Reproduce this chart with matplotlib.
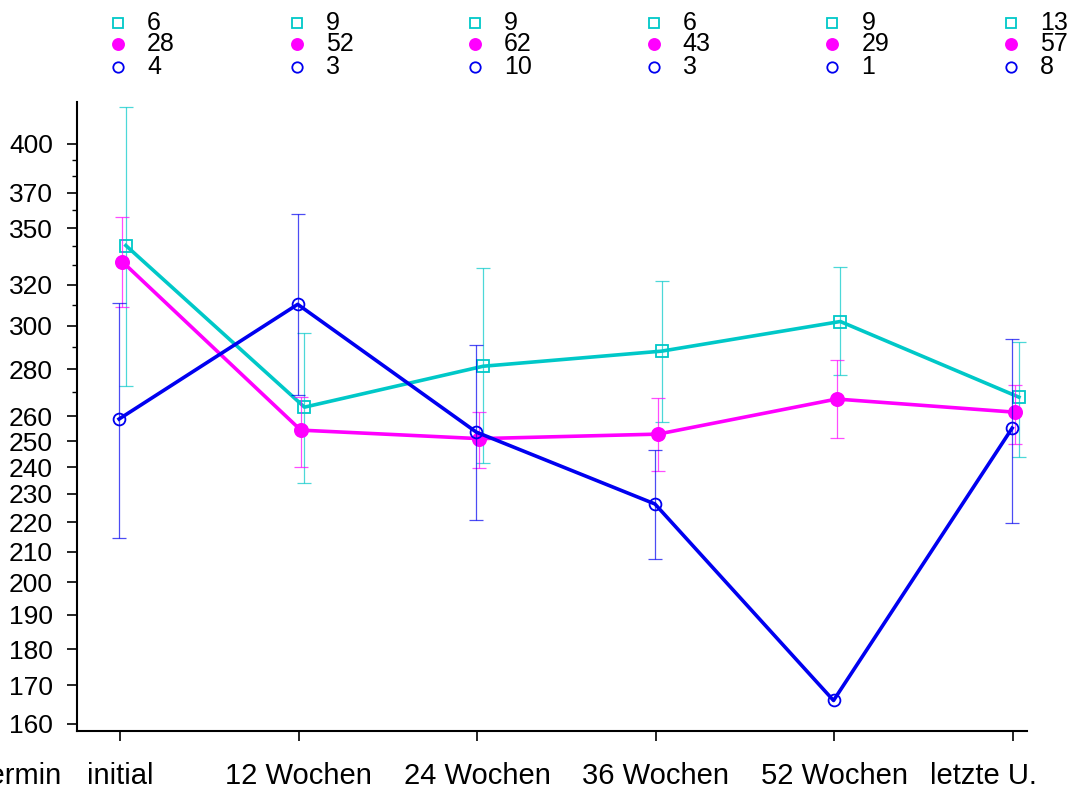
import matplotlib.pyplot as plt
import matplotlib.transforms as mtransforms
import numpy as np

plt.rcParams['font.family'] = ['Liberation Sans', 'DejaVu Sans']

# Zeitpunkte
labels = ['initial', '12 Wochen', '24 Wochen', '36 Wochen', '52 Wochen', 'letzte U.']

# Gruppe 1 (cyan, Quadrate)
cyan_mean = [340.5, 263.8, 281.4, 288.2, 302.0, 268.0]
cyan_hi = [423.6, 296.5, 328.5, 321.8, 329.0, 292.3]
cyan_lo = [272.6, 234.0, 241.4, 257.6, 277.4, 244.0]
cyan_n = [6, 9, 9, 6, 9, 13]

# Gruppe 2 (magenta, gefuellte Kreise)
mag_mean = [332.0, 254.4, 251.0, 252.8, 267.2, 261.7]
mag_hi = [356.0, 268.0, 261.7, 267.6, 284.0, 273.0]
mag_lo = [308.8, 240.0, 239.7, 238.5, 251.2, 249.0]
mag_n = [28, 52, 62, 43, 29, 57]

# Gruppe 3 (blau, offene Kreise)
blue_mean = [258.9, 310.3, 253.6, 226.4, 166.0, 255.2]
blue_hi = [311.0, 357.6, 290.9, 246.4, np.nan, 294.0]
blue_lo = [214.6, 268.8, 220.7, 207.6, np.nan, 219.7]
blue_n = [4, 3, 10, 3, 1, 8]

major_ticks = [160, 170, 180, 190, 200, 210, 220, 230, 240, 250, 260,
               280, 300, 320, 350, 370, 400]
minor_ticks = [270, 290, 310, 330, 340, 360, 380, 390]

CYAN = '#00C8C8'
MAG = '#FF00FF'
BLUE = '#0000F0'

fig = plt.figure(figsize=(10.72, 7.87), dpi=100)
ax = fig.add_axes([0.0718, 0.0712, 0.8862, 0.7988])

x = np.arange(len(labels))

def draw(offset, mean, lo, hi, color, marker, mfc, ms, z):
    xs = x + offset
    mean = np.array(mean)
    err = [mean - np.array(lo), np.array(hi) - mean]
    ax.errorbar(xs, mean, yerr=err, fmt='none', ecolor=color, elinewidth=0.9,
                capsize=5, capthick=0.9, alpha=0.7, zorder=z)
    ax.plot(xs, mean, '-', color=color, lw=2.6, marker=marker, ms=ms,
            mfc=mfc, mec=color, mew=1.3, zorder=z + 1)

draw(0.033, cyan_mean, cyan_lo, cyan_hi, CYAN, 's', 'none', 8.5, 2)
draw(0.012, mag_mean, mag_lo, mag_hi, MAG, 'o', MAG, 9.5, 4)
draw(-0.005, blue_mean, blue_lo, blue_hi, BLUE, 'o', 'none', 8.5, 6)

ax.set_yscale('log')
ax.set_ylim(158.2, 426.9)
ax.set_xlim(-0.2408, 5.078)
ax.set_yticks(major_ticks)
ax.set_yticklabels([str(t) for t in major_ticks])
ax.set_yticks(minor_ticks, minor=True)
ax.yaxis.set_minor_formatter(plt.NullFormatter())
ax.set_xticks(x)
ax.set_xticklabels(labels)

for s in ['top', 'right']:
    ax.spines[s].set_visible(False)
for s in ['left', 'bottom']:
    ax.spines[s].set_linewidth(1.5)

xpad = 15
ax.tick_params(axis='y', which='major', direction='out', length=7.2, width=1.2,
               labelsize=19, pad=10)
ax.tick_params(axis='y', which='minor', direction='out', length=3.6, width=1.0)
ax.tick_params(axis='x', direction='out', length=7.2, width=1.2,
               labelsize=21, pad=xpad)

# letzte Beschriftung etwas nach links
tl = ax.get_xticklabels()[-1]
tl.set_transform(tl.get_transform() +
                 mtransforms.ScaledTranslation(-30 / 100, 0, fig.dpi_scale_trans))

# "Termin" links vor "initial"
trans = ax.get_xaxis_transform()
ttrans = trans + mtransforms.ScaledTranslation(0, -(7.2 + xpad) / 72,
                                               fig.dpi_scale_trans)
ax.text(-0.325, 0, 'Termin', transform=ttrans, ha='right', va='top',
        fontsize=21, clip_on=False)

# Fallzahlen oberhalb des Diagramms
rows = [(1.1256, cyan_n, CYAN, 's', 'none', 7.5),
        (1.0922, mag_n, MAG, 'o', MAG, 8),
        (1.0556, blue_n, BLUE, 'o', 'none', 7.5)]
for yy, ns, color, marker, mfc, ms in rows:
    ax.plot(x - 0.011, [yy] * len(x), linestyle='none', marker=marker, ms=ms,
            mfc=mfc, mec=color, mew=1.3, transform=trans, clip_on=False)
    for xi, n in zip(x, ns):
        ax.text(xi + 0.151, yy, str(n), transform=trans, ha='left',
                va='center', fontsize=18, clip_on=False)

fig.savefig('out.png', dpi=100)
